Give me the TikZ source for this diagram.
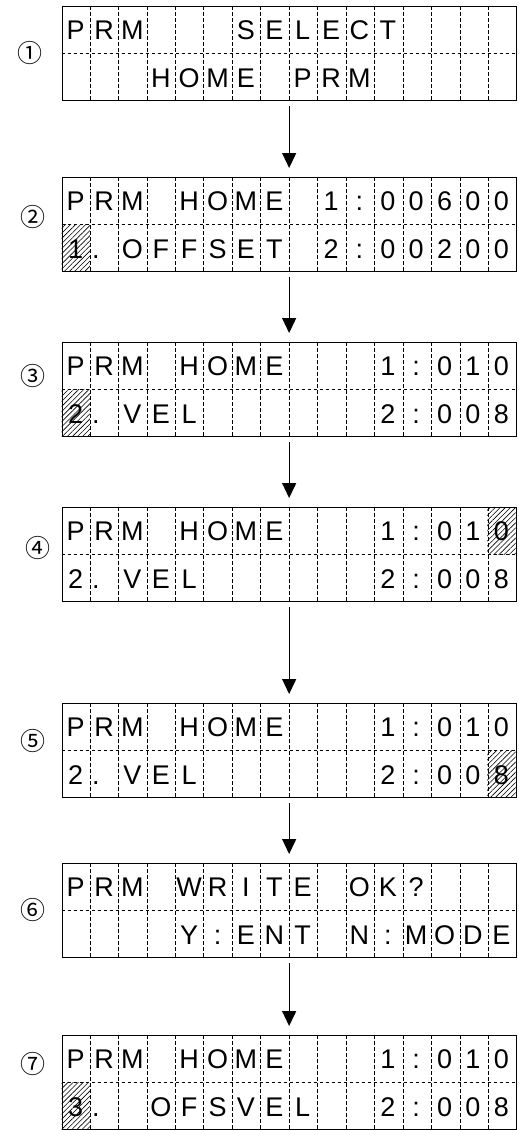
\documentclass[tikz,border=0pt]{standalone}
\usepackage{fontspec}
\setmainfont{Liberation Sans}
\newfontfamily\circfont{Noto Sans CJK JP}
\usetikzlibrary{arrows.meta,calc,patterns.meta}

\tikzset{
  lcdbox/.style={draw,line width=1.3pt,minimum width=454pt,minimum height=94pt,
    inner sep=0pt,anchor=north west},
  griddash/.style={line width=0.6pt,dash pattern=on 3.5pt off 2.5pt},
  lcdchar/.style={font=\fontsize{27}{27}\selectfont,text height=19.4pt,
    text depth=0pt,inner sep=0pt},
  stepno/.style={font=\circfont\fontsize{25}{25}\selectfont,inner sep=0pt},
  flow/.style={-{Triangle[width=14pt,length=15pt]},line width=1.3pt,
    shorten <=5pt,shorten >=9pt},
  hatch/.style={pattern={Lines[angle=45,distance=3.6pt,line width=0.6pt]}}
}

% period sits in the left part of its cell
\newcommand\lcddot{\makebox[24pt][l]{.}}
% dashed cell grid of one display
\newcommand\lcdgrid[1]{%
  \foreach \k in {1,...,15}
    \draw[griddash] ($(#1.north west)!\k/16!(#1.north east)$)
      -- ($(#1.south west)!\k/16!(#1.south east)$);
  \draw[griddash] (#1.west) -- (#1.east);}
% one row of characters: name, row tag, y offset, chars
\newcommand\lcdrow[4]{%
  \foreach \ch [count=\i] in {#4}
    \node[lcdchar] (#1-#2-\i) at ($(#1.north west)+(\i*28.375-14.1875,#3)$) {\ch};}
% hatched cursor cell: name, row (0/1), column
\newcommand\lcdhatch[3]{%
  \fill[hatch] ($(#1.north west)+(#3*28.375-28.375,#2*47)$) rectangle ++(28.375,47);}

\begin{document}
\begin{tikzpicture}[x=1pt,y=-1pt]
\useasboundingbox (0,0) rectangle (519,1130);

% displays
\node[lcdbox] (lcd1) at (61.5,6) {};
\node[lcdbox] (lcd2) at (61.5,177) {};
\node[lcdbox] (lcd3) at (61.5,342) {};
\node[lcdbox] (lcd4) at (61.5,507) {};
\node[lcdbox] (lcd5) at (61.5,703) {};
\node[lcdbox] (lcd6) at (61.5,863) {};
\node[lcdbox] (lcd7) at (61.5,1035) {};

\lcdhatch{lcd2}{1}{1}
\lcdhatch{lcd3}{1}{1}
\lcdhatch{lcd4}{0}{16}
\lcdhatch{lcd5}{1}{16}
\lcdhatch{lcd7}{1}{1}

\foreach \n in {1,...,7} {\lcdgrid{lcd\n}}

% texts
\lcdrow{lcd1}{a}{23.5}{P,R,M,{},{},{},S,E,L,E,C,T}
\lcdrow{lcd1}{b}{72}{{},{},{},H,O,M,E,{},P,R,M}
\lcdrow{lcd2}{a}{23.5}{P,R,M,{},H,O,M,E,{},1,:,0,0,6,0,0}
\lcdrow{lcd2}{b}{72}{1,\lcddot,O,F,F,S,E,T,{},2,:,0,0,2,0,0}
\lcdrow{lcd3}{a}{23.5}{P,R,M,{},H,O,M,E,{},{},{},1,:,0,1,0}
\lcdrow{lcd3}{b}{72}{2,\lcddot,V,E,L,{},{},{},{},{},{},2,:,0,0,8}
\lcdrow{lcd4}{a}{23.5}{P,R,M,{},H,O,M,E,{},{},{},1,:,0,1,0}
\lcdrow{lcd4}{b}{72}{2,\lcddot,V,E,L,{},{},{},{},{},{},2,:,0,0,8}
\lcdrow{lcd5}{a}{23.5}{P,R,M,{},H,O,M,E,{},{},{},1,:,0,1,0}
\lcdrow{lcd5}{b}{72}{2,\lcddot,V,E,L,{},{},{},{},{},{},2,:,0,0,8}
\lcdrow{lcd6}{a}{23.5}{P,R,M,{},W,R,I,T,E,{},O,K,?}
\lcdrow{lcd6}{b}{72}{{},{},{},{},Y,:,E,N,T,{},N,:,M,O,D,E}
\lcdrow{lcd7}{a}{23.5}{P,R,M,{},H,O,M,E,{},{},{},1,:,0,1,0}
\lcdrow{lcd7}{b}{72}{3,\lcddot,{},O,F,S,V,E,L,{},{},2,:,0,0,8}

% step numbers
\node[stepno] (no1) at (30,53) {①};
\node[stepno] (no2) at (33,217) {②};
\node[stepno] (no3) at (33,376) {③};
\node[stepno] (no4) at (38,548) {④};
\node[stepno] (no5) at (33,741) {⑤};
\node[stepno] (no6) at (33,910) {⑥};
\node[stepno] (no7) at (33,1064) {⑦};

% arrows
\draw[flow] (lcd1.south) -- (lcd2.north);
\draw[flow] (lcd2.south) -- (lcd3.north);
\draw[flow] (lcd3.south) -- (lcd4.north);
\draw[flow] (lcd4.south) -- (lcd5.north);
\draw[flow] (lcd5.south) -- (lcd6.north);
\draw[flow] (lcd6.south) -- (lcd7.north);
\end{tikzpicture}
\end{document}
